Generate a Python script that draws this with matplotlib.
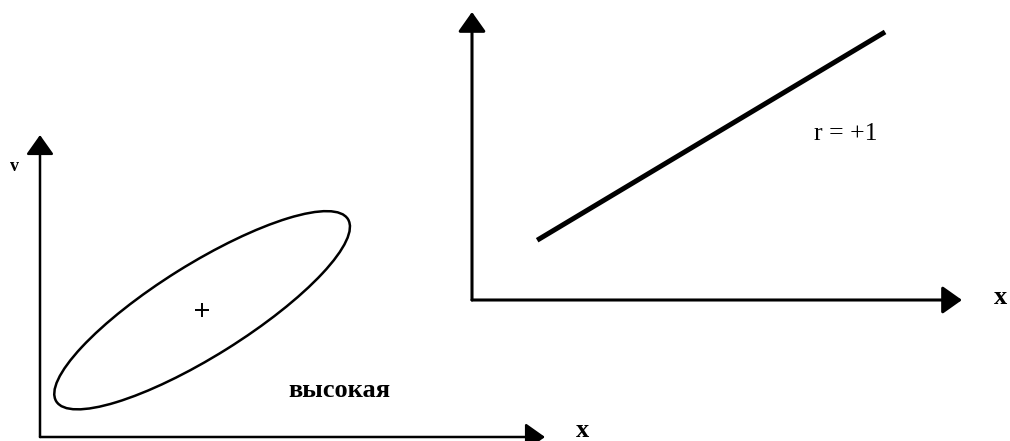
import matplotlib
matplotlib.use("Agg")
import matplotlib.pyplot as plt
from matplotlib.patches import Ellipse

W, H = 1010, 441
SERIF = ["Liberation Serif", "DejaVu Serif"]

# left panel: scatter envelope with high positive correlation
ell_center = (3.21, 2.51)
ell_width = 6.81
ell_height = 1.82
ell_angle = 32
left_label = "высокая"

# right panel: perfect correlation, r = +1
line_x = [1.33, 8.43]
line_y = [1.22, 5.47]
right_label = "r = +1"


def panel(ox, oy, tip_x, tip_y, ylim, lw):
    """Axes whose origin sits at pixel (ox, oy) with arrow tips at tip_x / tip_y."""
    ax = fig.add_axes([ox / W, (H - oy) / H, (tip_x - ox) / W, (oy - tip_y) / H])
    ax.set_xlim(0, 10)
    ax.set_ylim(0, ylim)
    ax.axis("off")
    style = "-|>,head_length=12,head_width=8.5"
    for end in [(1, 0), (0, 1)]:
        ax.annotate("", xy=end, xytext=(0, 0), xycoords="axes fraction",
                    arrowprops=dict(arrowstyle=style, mutation_scale=1,
                                    color="black", lw=lw,
                                    shrinkA=0, shrinkB=0))
    return ax


fig = plt.figure(figsize=(W / 100, H / 100), dpi=100, facecolor="white")

# ---- left: ellipse
ax1 = panel(40, 437, 545, 135, 302 / 50.5, 1.8)
ax1.add_patch(Ellipse(ell_center, ell_width, ell_height, angle=ell_angle,
                      fill=False, edgecolor="black", lw=1.8))
ax1.plot(*ell_center, marker="+", color="black", ms=10, mew=1.4)
ax1.text(5.92, 0.93, left_label, ha="center", va="center",
         fontsize=19, fontweight="bold", family=SERIF)
ax1.text(-0.05, 0.897, "v", transform=ax1.transAxes, ha="center",
         va="center", fontsize=13, fontweight="bold", family=SERIF)
ax1.text(1.075, 0.023, "x", transform=ax1.transAxes, ha="center",
         va="center", fontsize=19, fontweight="bold", family=SERIF)

# ---- right: straight line
ax2 = panel(472, 300, 962, 12, 288 / 49, 2.2)
ax2.plot(line_x, line_y, color="black", lw=3.6, solid_capstyle="butt")
ax2.text(7.63, 3.39, right_label, ha="center", va="center",
         fontsize=18.5, family=SERIF)
ax2.text(1.078, 0.01, "x", transform=ax2.transAxes, ha="center",
         va="center", fontsize=19, fontweight="bold", family=SERIF)

fig.savefig("out.png", dpi=100, facecolor="white")
